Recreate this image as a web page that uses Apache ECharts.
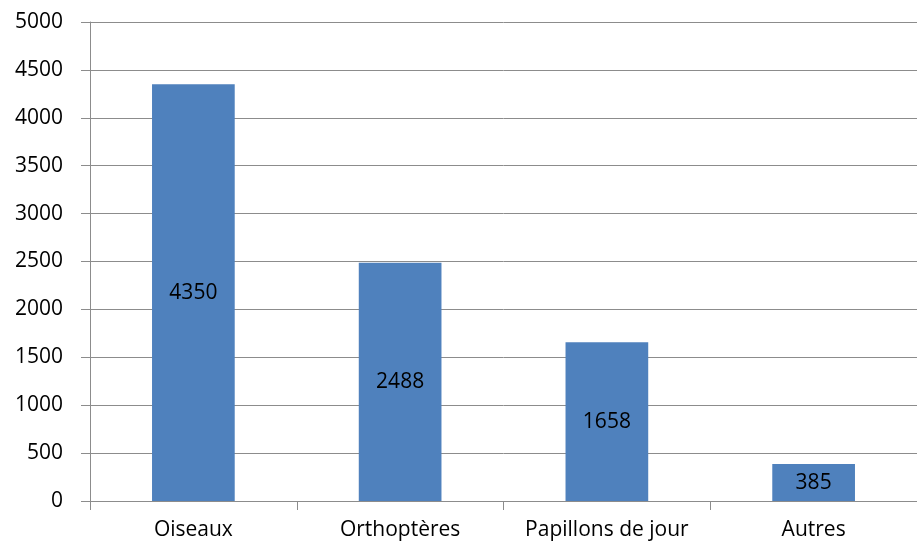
<!DOCTYPE html>
<html>
<head>
<meta charset="utf-8">
<script src="https://cdn.jsdelivr.net/npm/echarts@6/dist/echarts.min.js"></script>
<style>
  html, body { margin: 0; padding: 0; background: #fff; }
  #chart { width: 917px; height: 547px; }
</style>
</head>
<body>
<div id="chart"></div>
<script>
var categories = ['Oiseaux', 'Orthoptères', 'Papillons de jour', 'Autres'];
var counts = [4350, 2488, 1658, 385];

var chart = echarts.init(document.getElementById('chart'));
chart.setOption({
  animation: false,
  textStyle: { fontFamily: 'Open Sans, Liberation Sans, sans-serif' },
  grid: { left: 90, right: -7, top: 22, bottom: 46, containLabel: false },
  xAxis: {
    type: 'category',
    data: categories,
    axisLine: { lineStyle: { color: '#8c8c8c', width: 1 } },
    axisTick: { show: true, interval: 0, length: 9, lineStyle: { color: '#8c8c8c' } },
    axisLabel: { color: '#000', fontSize: 21, margin: 19, interval: 0, hideOverlap: false },
    splitLine: { show: false }
  },
  yAxis: {
    type: 'value',
    min: 0,
    max: 5000,
    interval: 500,
    axisLine: { show: true, lineStyle: { color: '#8c8c8c', width: 1 } },
    axisTick: { show: true, length: 9, lineStyle: { color: '#8c8c8c' } },
    axisLabel: {
      color: '#000', fontSize: 21, margin: 27,
      formatter: function (v) { return String(v); }
    },
    splitLine: { lineStyle: { color: '#8c8c8c', width: 1 } }
  },
  series: [{
    type: 'bar',
    data: counts,
    barWidth: '40%',
    itemStyle: { color: '#4f81bd' },
    label: { show: true, position: 'inside', color: '#000', fontSize: 21 }
  }]
});
</script>
</body>
</html>
